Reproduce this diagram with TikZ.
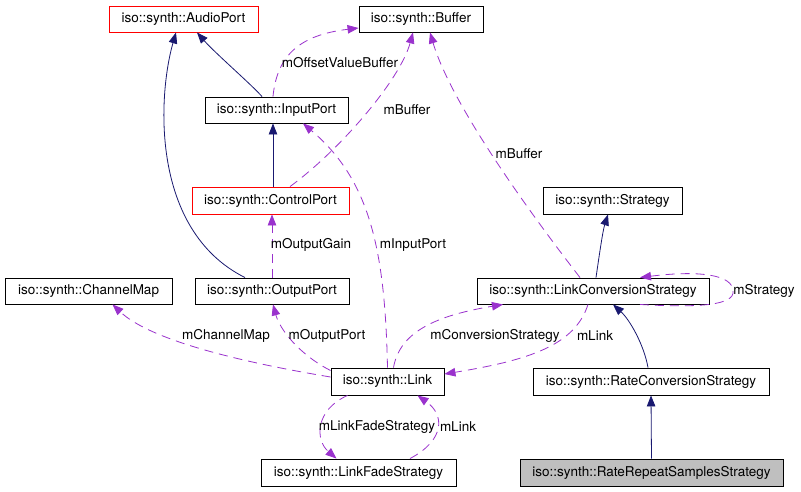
\documentclass[tikz,border=0pt]{standalone}
\usepackage{fontspec}
\setmainfont{TeX Gyre Heros}
\usetikzlibrary{arrows.meta}
\definecolor{navyc}{HTML}{191970}
\definecolor{purp}{HTML}{9A32CD}
\definecolor{grayf}{HTML}{BFBFBF}
\tikzset{
  box/.style={draw=black, line width=0.9pt, inner sep=0pt, font=\fontsize{13.5}{16}\selectfont},
  redbox/.style={box, draw=red},
  inh/.style={draw=navyc, line width=0.8pt, -{Triangle[length=11pt,width=8.5pt]}},
  col/.style={draw=purp, line width=0.8pt, dash pattern=on 9pt off 6pt, -{Triangle[length=11pt,width=8.5pt]}},
  lbl/.style={inner sep=0pt, font=\fontsize{13.5}{16}\selectfont}
}
\begin{document}
\begin{tikzpicture}[x=1pt,y=-1pt]
\useasboundingbox[fill=white] (0,0) rectangle (801,491);
% nodes
\node[redbox, minimum width=149pt, minimum height=26pt] (audio) at (183.5,19) {iso::synth::AudioPort};
\node[box, minimum width=124pt, minimum height=26pt] (buffer) at (421,19) {iso::synth::Buffer};
\node[box, minimum width=143pt, minimum height=26pt] (inp) at (276.5,110) {iso::synth::InputPort};
\node[redbox, minimum width=157pt, minimum height=27pt] (ctrl) at (270.5,200.5) {iso::synth::ControlPort};
\node[box, minimum width=139pt, minimum height=27pt] (strat) at (612.5,200.5) {iso::synth::Strategy};
\node[box, minimum width=167pt, minimum height=26pt] (chmap) at (88.5,291) {iso::synth::ChannelMap};
\node[box, minimum width=154pt, minimum height=26pt] (outp) at (272,291) {iso::synth::OutputPort};
\node[box, minimum width=232pt, minimum height=26pt] (lcs) at (593,291) {iso::synth::LinkConversionStrategy};
\node[box, minimum width=113pt, minimum height=27pt] (link) at (387.5,381.5) {iso::synth::Link};
\node[box, minimum width=236pt, minimum height=27pt] (rcs) at (651,381.5) {iso::synth::RateConversionStrategy};
\node[box, minimum width=195pt, minimum height=27pt] (lfs) at (358.5,472.5) {iso::synth::LinkFadeStrategy};
\node[box, fill=grayf, minimum width=263pt, minimum height=27pt] (rrss) at (651.5,472.5) {iso::synth::RateRepeatSamplesStrategy};
% inheritance
\draw[inh] ([xshift=-14.5pt]inp.north) .. controls (252,85) and (215,53) .. ([xshift=13.5pt]audio.south);
\draw[inh] ([xshift=-27pt]outp.north) .. controls (150,230) and (158,95) .. ([xshift=-7.5pt]audio.south);
\draw[inh] ([xshift=2.5pt]ctrl.north) -- ([xshift=-3.5pt]inp.south);
\draw[inh] ([xshift=3pt]lcs.north) .. controls (600,250) and (603,230) .. ([xshift=-4.5pt]strat.south);
\draw[inh] ([xshift=-3pt]rcs.north) .. controls (644,345) and (630,320) .. ([xshift=20pt]lcs.south);
\draw[inh] (rrss.north) -- (rcs.south);
% collaboration
\draw[col] ([xshift=-3.5pt]inp.north) .. controls (277,55) and (300,35) .. ([yshift=-9pt]buffer.west);
\node[lbl] (l1) at (340,63) {mOffsetValueBuffer};
\draw[col] ([xshift=19.5pt]ctrl.north) .. controls (340,150) and (400,80) .. ([xshift=-8pt]buffer.south);
\node[lbl] (l2) at (407,110) {mBuffer};
\draw[col] ([xshift=-13pt]lcs.north) .. controls (520,200) and (450,100) .. ([xshift=9pt]buffer.south);
\node[lbl] (l3) at (519,154) {mBuffer};
\draw[col] (link.north) .. controls (385,250) and (370,180) .. ([xshift=26.5pt]inp.south);
\node[lbl] (l4) at (413,245) {mInputPort};
\draw[col] (outp.north) -- ([xshift=1.5pt]ctrl.south);
\node[lbl] (l5) at (311,245) {mOutputGain};
\draw[col] ([yshift=4.5pt]link.west) .. controls (240,362) and (150,340) .. ([xshift=24pt]chmap.south);
\node[lbl] (l6) at (226,336) {mChannelMap};
\draw[col] ([yshift=11pt]link.west) .. controls (300,355) and (280,330) .. ([xshift=1pt]outp.south);
\node[lbl] (l7) at (327,336) {mOutputPort};
\draw[col] ([xshift=6pt]link.north) .. controls (400,330) and (440,315) .. ([xshift=-90pt]lcs.south);
\node[lbl] (l8) at (495,336) {mConversionStrategy};
\draw[col] ([xshift=-5pt]lcs.south) .. controls (575,345) and (530,360) .. ([yshift=7.5pt]link.east);
\node[lbl] (l9) at (595,336) {mLink};
\draw[col] ([xshift=47pt]lcs.south) .. controls (700,308) and (735,305) .. (733,291) .. controls (733,275) and (700,270) .. ([xshift=47pt]lcs.north);
\node[lbl] (l10) at (764,291) {mStrategy};
\draw[col] ([xshift=-40pt]link.south) .. controls (315,410) and (315,440) .. ([xshift=-22pt]lfs.north);
\node[lbl] (l11) at (377,427) {mLinkFadeStrategy};
\draw[col] ([xshift=51.5pt]lfs.north) .. controls (445,440) and (445,415) .. ([xshift=30pt]link.south);
\node[lbl] (l12) at (458,427) {mLink};
\end{tikzpicture}
\end{document}
